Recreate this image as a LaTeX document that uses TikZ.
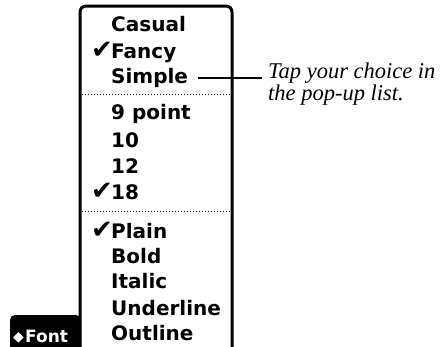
\documentclass[tikz,border=0pt]{standalone}
\usepackage{fontspec}
\newfontfamily\menufont{DejaVu Sans}[BoldFont={DejaVu Sans Bold}]
\newfontfamily\notefont{Liberation Serif}
\begin{document}
\begin{tikzpicture}[x=1pt,y=-1pt,
  item/.style={anchor=base west,inner sep=0pt,font=\menufont\bfseries\fontsize{20}{21}\selectfont},
  tick/.style={anchor=base west,inner sep=0pt,font=\menufont\bfseries\fontsize{26}{27}\selectfont},
  note/.style={anchor=base west,inner sep=0pt,font=\notefont\itshape\fontsize{22.5}{23}\selectfont},
  sep/.style={line width=1pt,dash pattern=on 1pt off 2pt},
  frame/.style={line width=3pt,rounded corners=6pt}]
\useasboundingbox (0,0) rectangle (444,346);
% popup frame
\draw[frame] (80,347) -- (80,6) -- (232,6) -- (232,347);
% font tab
\fill[rounded corners=5pt] (10,347) -- (10,315) -- (81,315) -- (81,347);
\node[anchor=base west,inner sep=0pt,text=white,font=\menufont\fontsize{14}{15}\selectfont] (dia) at (13,341) {◆};
\node[anchor=base west,inner sep=0pt,text=white,font=\menufont\bfseries\fontsize{17}{18}\selectfont] (fonttab) at (25,342) {Font};
% items
\node[item] (casual) at (111,31) {Casual};
\node[item] (fancy) at (111,58) {Fancy};
\node[item] (simple) at (111,83) {Simple};
\node[item] (p9) at (111,119) {9 point};
\node[item] (p10) at (111,147) {10};
\node[item] (p12) at (111,173) {12};
\node[item] (p18) at (111,199) {18};
\node[item] (plain) at (111,238) {Plain};
\node[item] (bold) at (111,263) {Bold};
\node[item] (italic) at (111,288) {Italic};
\node[item] (underline) at (111,315) {Underline};
\node[item] (outline) at (111,340) {Outline};
% checkmarks
\node[tick] (t1) at (91,58) {✔};
\node[tick] (t2) at (91,199) {✔};
\node[tick] (t3) at (91,238) {✔};
% separators
\draw[sep] (82,94) -- (231,94);
\draw[sep] (82,211) -- (231,211);
% callout
\node[note] (tap) at (268,78) {Tap your choice in};
\node[note] (list) at (268,100) {the pop-up list.};
\coordinate (cs) at ([xshift=10pt]simple.east |- 0,78);
\coordinate (ce) at ([xshift=-6pt]tap.base west |- 0,78);
\draw[line width=1.2pt] (cs) -- (ce);
\end{tikzpicture}
\end{document}
